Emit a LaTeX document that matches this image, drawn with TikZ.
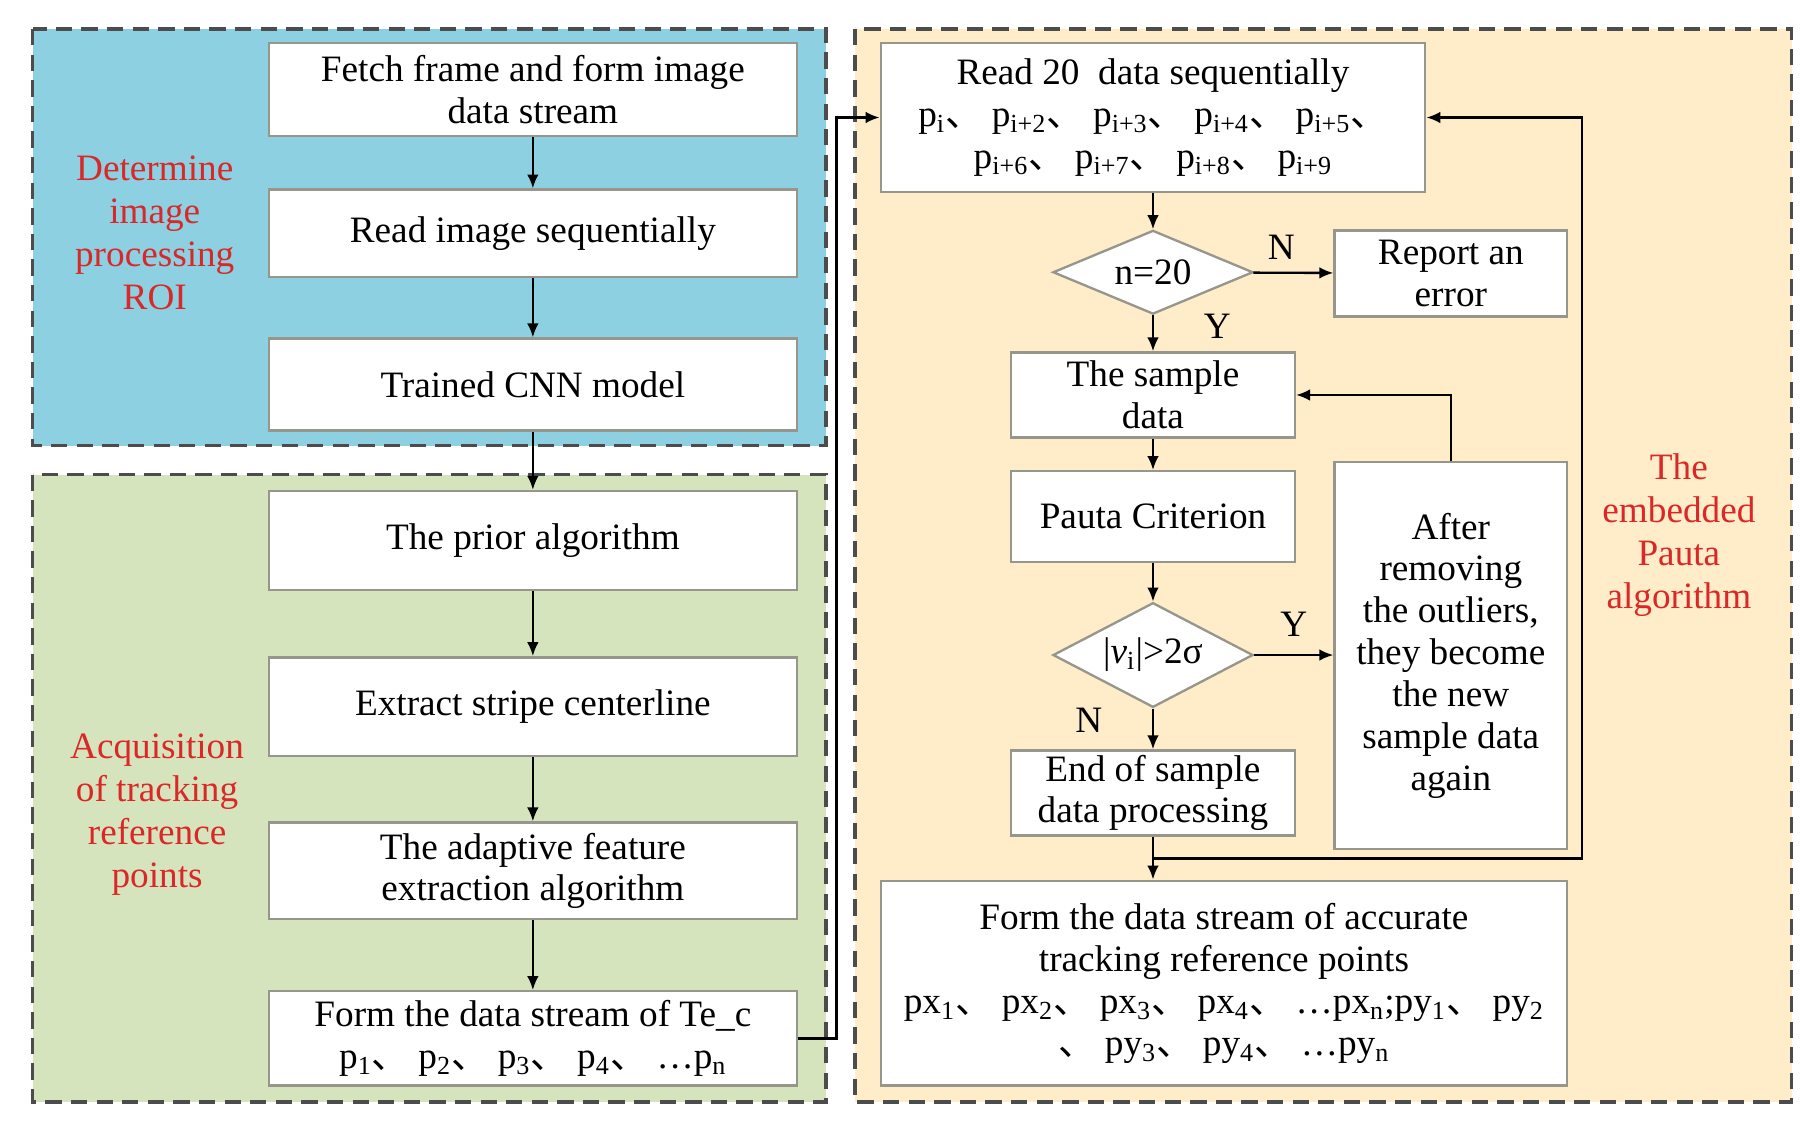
\documentclass[tikz,border=0pt]{standalone}
\usepackage{fontspec}
\setmainfont{Liberation Serif}
\newfontfamily\cjk{Noto Sans CJK SC}
\usetikzlibrary{shapes.geometric,arrows.meta}
\newcommand{\dn}{{\cjk 、}}
\newcommand{\ps}[1]{p\textsubscript{#1}}
\definecolor{bluebg}{RGB}{140,208,226}
\definecolor{greenbg}{RGB}{214,228,190}
\definecolor{orbg}{RGB}{255,236,200}
\definecolor{redtx}{RGB}{218,40,40}
\definecolor{bord}{RGB}{150,150,140}
\tikzset{
 region/.style={draw=black!70,line width=1.5pt,dash pattern=on 7pt off 4pt},
 box/.style={draw=bord,fill=white,line width=1pt,align=center,font=\fontsize{16}{18}\selectfont,inner sep=0pt},
 dia/.style={diamond,draw=bord,fill=white,line width=1pt,font=\fontsize{16}{18}\selectfont,inner sep=0pt,aspect=2.4},
 lab/.style={text=redtx,align=center,font=\fontsize{16}{18.5}\selectfont},
 yn/.style={font=\fontsize{16}{18}\selectfont},
 arr/.style={-{Latex[length=6pt,width=5pt]},line width=1pt}
}
\newcommand{\bx}[6]{\node[box,minimum width=#3*0.5pt-#2*0.5pt,minimum height=#5*0.5pt-#4*0.5pt] (#1) at ({(#2+#3)/2},{(#4+#5)/2}) {#6};}
\begin{document}
\begin{tikzpicture}[x=0.5pt,y=-0.5pt]
\useasboundingbox (0,0) rectangle (1560,973);
\fill[white] (0,0) rectangle (1560,973);
\draw[region,fill=bluebg] (28,25) rectangle (710,383);
\draw[region,fill=greenbg] (28,408) rectangle (710,947);
\draw[region,fill=orbg] (735,25) rectangle (1540,947);
\bx{b1}{231}{685}{37}{117}{Fetch frame and form image\\data stream}
\bx{b2}{231}{685}{163}{238}{Read image sequentially}
\bx{b3}{231}{685}{291}{370}{Trained CNN model}
\bx{b4}{231}{685}{422}{507}{The prior algorithm}
\bx{b5}{231}{685}{565}{650}{Extract stripe centerline}
\bx{b6}{231}{685}{707}{790}{The adaptive feature\\extraction algorithm}
\bx{b7}{231}{685}{852}{933}{Form the data stream of Te\_c\\\ps{1}\dn\ \ps{2}\dn\ \ps{3}\dn\ \ps{4}\dn\ \ldots\ps{n}}
\node[lab] (l1) at (133,200) {Determine\\image\\processing\\ROI};
\node[lab] (l2) at (135,700) {Acquisition\\of tracking\\reference\\points};
\node[lab] (l3) at (1443,460) {The\\embedded\\Pauta\\algorithm};
\bx{r1}{757}{1225}{37}{165}{Read 20\ \ data sequentially\\\ps{i}\dn\ \ps{i+2}\dn\ \ps{i+3}\dn\ \ps{i+4}\dn\ \ps{i+5}\dn\\\ps{i+6}\dn\ \ps{i+7}\dn\ \ps{i+8}\dn\ \ps{i+9}}
\node[dia,minimum width=172*0.5pt,minimum height=72*0.5pt] (d1) at (991,234) {n=20};
\bx{rep}{1147}{1347}{198}{272}{Report an\\error}
\bx{sd}{869}{1113}{303}{376}{The sample\\data}
\bx{pc}{869}{1113}{405}{483}{Pauta Criterion}
\node[dia,minimum width=172*0.5pt,minimum height=90*0.5pt] (d2) at (991,563) {|\textit{v}\textsubscript{i}|>2σ};
\bx{end}{869}{1113}{645}{718}{End of sample\\data processing}
\bx{aft}{1147}{1347}{397}{730}{After\\removing\\the outliers,\\they become\\the new\\sample data\\again}
\bx{fin}{757}{1347}{757}{933}{Form the data stream of accurate\\tracking reference points\\px\textsubscript{1}\dn\ px\textsubscript{2}\dn\ px\textsubscript{3}\dn\ px\textsubscript{4}\dn\ \ldots px\textsubscript{n};py\textsubscript{1}\dn\ py\textsubscript{2}\\\dn\ py\textsubscript{3}\dn\ py\textsubscript{4}\dn\ \ldots py\textsubscript{n}}
\draw[arr] (b1) -- (b2);
\draw[arr] (b2) -- (b3);
\draw[arr] (b3) -- (b4);
\draw[arr] (b4) -- (b5);
\draw[arr] (b5) -- (b6);
\draw[arr] (b6) -- (b7);
\draw[arr] (b7.east) -- ++(33,0) |- (r1.west);
\draw[arr] (r1) -- (d1);
\draw[arr] (d1) -- (rep) node[yn,pos=0.35,above=2pt] {N};
\draw[arr] (d1) -- (sd) node[yn,pos=0.3,right=18pt] {Y};
\draw[arr] (sd) -- (pc);
\draw[arr] (pc) -- (d2);
\draw[arr] (d2) -- (aft.west|-d2) node[yn,pos=0.5,above=4pt] {Y};
\draw[arr] (d2) -- (end) node[yn,pos=0.3,left=18pt] {N};
\draw[arr] (aft.north) |- (sd.east);
\coordinate (j) at (991,738);
\draw[arr] (end.south) -- (end.south|-fin.north);
\draw[arr] (j) -- (1360,738) |- (r1.east);
\end{tikzpicture}
\end{document}
